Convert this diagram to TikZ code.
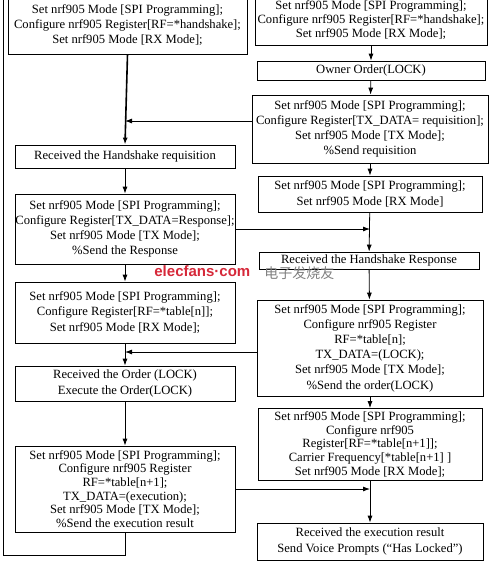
\documentclass[tikz,border=0pt]{standalone}
\usepackage{fontspec}
\setmainfont{Liberation Serif}
\newfontfamily\wmfont{Liberation Sans}
\newfontfamily\cjk{Noto Sans CJK SC}
\usetikzlibrary{arrows.meta}
\definecolor{wmred}{RGB}{214,40,57}

\begin{document}
\begin{tikzpicture}[x=1pt, y=-1pt, thick,
		box/.style={draw, align=center, inner sep=0pt, minimum width=220pt, font=\fontsize{12.6}{15.2}\selectfont},
		tight/.style={font=\fontsize{12.6}{13.6}\selectfont},
		arr/.style={-{Latex[length=7pt,width=5pt]}}]
		\useasboundingbox (0,0) rectangle (489,566);
		\clip (0,0) rectangle (489,566);

		% left column
		\node[box, minimum width=239pt, minimum height=58pt] (l1) at (127.5,25) {Set nrf905 Mode [SPI Programming];\\ Configure nrf905 Register[RF=*handshake];\\ Set nrf905 Mode [RX Mode];};
		\node[box, minimum height=23pt] (l2) at (125,156.5) {Received the Handshake requisition};
		\node[box, minimum height=70pt] (l3) at (125,229) {Set nrf905 Mode [SPI Programming];\\ Configure Register[TX\_DATA=Response];\\ Set nrf905 Mode [TX Mode];\\ \%Send the Response};
		\node[box, minimum height=61pt] (l4) at (125,312.5) {Set nrf905 Mode [SPI Programming];\\ Configure Register[RF=*table[n]];\\ Set nrf905 Mode [RX Mode];};
		\node[box, minimum height=35pt] (l5) at (125,383.5) {Received the Order (LOCK)\\ Execute the Order(LOCK)};
		\node[box, tight, minimum height=86pt] (l6) at (125,489) {Set nrf905 Mode [SPI Programming];\\ Configure nrf905 Register\\ RF=*table[n+1];\\ TX\_DATA=(execution);\\ Set nrf905 Mode [TX Mode];\\ \%Send the execution result};

		% right column
		\node[box, tight, minimum width=232pt, minimum height=50pt] (r1) at (371,20) {Set nrf905 Mode [SPI Programming];\\ Configure nrf905 Register[RF=*handshake];\\ Set nrf905 Mode [RX Mode];};
		\node[box, minimum width=228pt, minimum height=19pt] (r2) at (371,70.5) {Owner Order(LOCK)};
		\node[box, minimum width=236pt, minimum height=68pt] (r3) at (370,129) {Set nrf905 Mode [SPI Programming];\\ Configure Register[TX\_DATA= requisition];\\ Set nrf905 Mode [TX Mode];\\ \%Send requisition};
		\node[box, minimum width=224pt, minimum height=36pt] (r4) at (370,194) {Set nrf905 Mode [SPI Programming];\\ Set nrf905 Mode [RX Mode]};
		\node[box, minimum width=220pt, minimum height=17pt] (r5) at (369,260.5) {Received the Handshake Response};
		\node[box, minimum width=226pt, minimum height=96pt] (r6) at (370,348) {Set nrf905 Mode [SPI Programming];\\ Configure nrf905 Register\\ RF=*table[n];\\ TX\_DATA=(LOCK);\\ Set nrf905 Mode [TX Mode];\\ \%Send the order(LOCK)};
		\node[box, tight, minimum width=224pt, minimum height=72pt] (r7) at (370,444.5) {Set nrf905 Mode [SPI Programming];\\ Configure nrf905\\ Register[RF=*table[n+1]];\\ Carrier Frequency[*table[n+1] ]\\ Set nrf905 Mode [RX Mode];};
		\node[box, minimum width=226pt, minimum height=37pt] (r8) at (370,541.5) {Received the execution result\\ Send Voice Prompts (“Has Locked”)};

		% watermark
		\node[text=wmred, font=\wmfont\bfseries\fontsize{15}{15}\selectfont, anchor=west, inner sep=0pt] (wm) at (154,271) {elecfans·com};
		\node[text=gray, font=\cjk\fontsize{14}{14}\selectfont, anchor=west, inner sep=0pt] (wmcn) at (264,273) {电子发烧友};

		\coordinate (j1) at (125,121);
		\coordinate (j2) at (125,352);
		\coordinate (loopa) at (3,555);
		\coordinate (loopb) at (3,-10);

		\draw[arr, line width=1.6pt] (l1.south) to (l2.north);
		\draw[arr] (l2) to (l3);
		\draw[arr] (l3) to (l4);
		\draw[arr] (l4) to (l5);
		\draw[arr] (l5) to (l6);
		\draw[arr] (r3.west |- j1) to (j1);
		\draw[arr] (r6.west |- j2) to (j2);
		\draw (l6.south) |- (loopa) -- (loopb);

		\draw[arr] (r1) to (r2);
		\draw[arr] (r2) to (r3);
		\draw[arr] (r3) to (r4);
		\draw[arr] (r4) to (r5);
		\draw[arr] (r5) to (r6);
		\draw[arr] (r6) to (r7);
		\draw[arr] (r7) to (r8);
		\draw[arr] (l3.east) to (l3.east -| r4.south);
		\draw[arr] (l6.east) to (l6.east -| r7.south);
	\end{tikzpicture}
\end{document}
